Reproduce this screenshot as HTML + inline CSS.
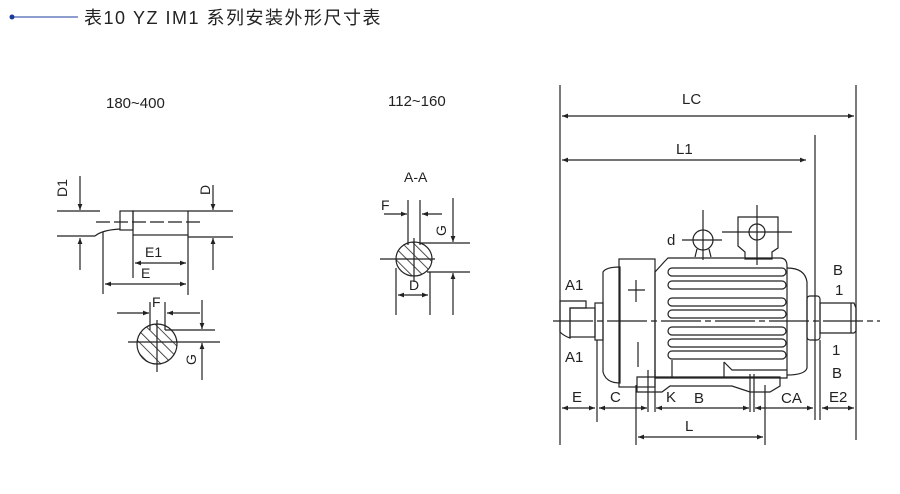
<!DOCTYPE html>
<html><head><meta charset="utf-8"><style>
html,body{margin:0;padding:0;background:#fff;}
svg{display:block;}
text{font-family:"Liberation Sans","Noto Sans CJK SC",sans-serif;fill:#222;}
</style></head><body>
<svg width="900" height="494" viewBox="0 0 900 494" xmlns="http://www.w3.org/2000/svg">
<defs>
<marker id="a" viewBox="0 0 10 10" refX="10" refY="5" markerWidth="5" markerHeight="5" orient="auto-start-reverse"><path d="M0,1 L10,5 L0,9z" fill="#222"/></marker>
<pattern id="h" width="8" height="8" patternUnits="userSpaceOnUse" patternTransform="rotate(-45)"><line x1="0" y1="0" x2="0" y2="8" stroke="#222" stroke-width="1.6"/></pattern>
</defs>
<g stroke="#222" stroke-width="1" fill="none">
<circle cx="12" cy="17" r="2.5" fill="#1a3b9c" stroke="none"/>
<line x1="12" y1="17" x2="78" y2="17" stroke="#1a3b9c"/>
</g>
<text x="84" y="24" font-size="18" letter-spacing="1.5">表10  YZ  IM1 系列安装外形尺寸表</text>

<g stroke="#222" stroke-width="1.2" fill="none">
<!-- left shaft -->
<line x1="57" y1="211" x2="100" y2="211"/>
<line x1="57" y1="236" x2="95" y2="236"/>
<path d="M95,236 Q102,230 120,229"/>
<rect x="120" y="211" width="13" height="19"/>
<rect x="133" y="211" width="55" height="24"/>
<line x1="96" y1="222" x2="200" y2="222" stroke-dasharray="14,4"/>
<line x1="103" y1="232" x2="103" y2="294"/>
<line x1="133" y1="235" x2="133" y2="278"/>
<line x1="188" y1="235" x2="188" y2="295"/>
<line x1="135" y1="263" x2="186" y2="263" marker-start="url(#a)" marker-end="url(#a)"/>
<line x1="105" y1="284" x2="186" y2="284" marker-start="url(#a)" marker-end="url(#a)"/>
<line x1="80" y1="176" x2="80" y2="210" marker-end="url(#a)"/>
<line x1="80" y1="270" x2="80" y2="238" marker-end="url(#a)"/>
<line x1="188" y1="211" x2="233" y2="211"/>
<line x1="188" y1="237" x2="233" y2="237"/>
<line x1="213" y1="185" x2="213" y2="210" marker-end="url(#a)"/>
<line x1="213" y1="270" x2="213" y2="238" marker-end="url(#a)"/>
<circle cx="157" cy="344" r="20" fill="url(#h)"/>
<line x1="150" y1="302" x2="150" y2="330"/>
<line x1="165" y1="302" x2="165" y2="330"/>
<line x1="157" y1="320" x2="157" y2="372"/>
<line x1="117" y1="313" x2="149" y2="313" marker-end="url(#a)"/>
<line x1="200" y1="313" x2="167" y2="313" marker-end="url(#a)"/>
<line x1="165" y1="330" x2="215" y2="330"/>
<line x1="128" y1="342" x2="220" y2="342"/>
<line x1="202" y1="300" x2="202" y2="329" marker-end="url(#a)"/>
<line x1="202" y1="380" x2="202" y2="343" marker-end="url(#a)"/>

<!-- middle -->
<ellipse cx="414" cy="259" rx="18" ry="17" fill="url(#h)"/>
<line x1="408" y1="200" x2="408" y2="245"/>
<line x1="420" y1="200" x2="420" y2="245"/>
<line x1="414" y1="238" x2="414" y2="282"/>
<line x1="380" y1="259" x2="435" y2="259"/>
<line x1="384" y1="214" x2="407" y2="214" marker-end="url(#a)"/>
<line x1="442" y1="214" x2="422" y2="214" marker-end="url(#a)"/>
<line x1="420" y1="243" x2="470" y2="243"/>
<line x1="427" y1="272" x2="470" y2="272"/>
<line x1="453" y1="198" x2="453" y2="242" marker-end="url(#a)"/>
<line x1="453" y1="315" x2="453" y2="273" marker-end="url(#a)"/>
<line x1="396" y1="268" x2="396" y2="315"/>
<line x1="430" y1="272" x2="430" y2="315"/>
<line x1="398" y1="295" x2="428" y2="295" marker-start="url(#a)" marker-end="url(#a)"/>

<!-- motor -->
<line x1="560" y1="85" x2="560" y2="445"/>
<line x1="856" y1="85" x2="856" y2="440"/>
<line x1="815" y1="135" x2="815" y2="420"/>
<line x1="562" y1="116" x2="854" y2="116" marker-start="url(#a)" marker-end="url(#a)"/>
<line x1="562" y1="160" x2="806" y2="160" marker-start="url(#a)" marker-end="url(#a)"/>
<line x1="553" y1="321" x2="880" y2="321" stroke-dasharray="40,4,6,4"/>
<path d="M560,301 H586 V308 H570 V338 Q564,336 560,332 Z"/>
<rect x="570" y="308" width="25" height="29"/>
<rect x="595" y="303" width="8" height="37"/>
<path d="M603,272 Q606,267 620,267 V383 Q606,383 603,372 Z"/>
<rect x="619" y="259" width="36" height="128"/>
<line x1="636" y1="280" x2="636" y2="302"/>
<line x1="628" y1="290" x2="645" y2="290"/>
<line x1="638" y1="342" x2="638" y2="367"/>
<path d="M655,272 L665,261 L668,258 H780 Q787,258 787,266 V378 H655 Z"/>
<rect x="668" y="268" width="118" height="8" rx="4"/>
<rect x="668" y="281" width="118" height="8" rx="4"/>
<rect x="668" y="298" width="118" height="8" rx="4"/>
<rect x="668" y="310" width="118" height="8" rx="4"/>
<rect x="668" y="327" width="118" height="8" rx="4"/>
<rect x="668" y="339" width="118" height="8" rx="4"/>
<rect x="668" y="351" width="118" height="8" rx="4"/>
<line x1="672" y1="360" x2="672" y2="378"/>
<line x1="724" y1="362" x2="724" y2="378"/>
<path d="M724,362 L732,370 H787"/>
<path d="M787,268 Q805,268 807,282 V368 Q805,375 787,375"/>
<rect x="807" y="296" width="13" height="44" rx="3"/>
<path d="M820,303 H854 L856,308 V331 L854,333 H820 Z"/>
<line x1="851" y1="303" x2="851" y2="333"/>
<path d="M637,377 H780 V386 L770,392 H750 L732,386 H670 L662,392 H637 Z"/>
<line x1="648" y1="370" x2="648" y2="412"/>
<line x1="655" y1="370" x2="655" y2="412"/>
<line x1="750" y1="374" x2="750" y2="412"/>
<line x1="754" y1="374" x2="754" y2="412"/>
<path d="M738,217 H778 V248 L772,252 V259 H745 V252 L738,246 Z"/>
<circle cx="757" cy="232" r="8"/>
<line x1="757" y1="205" x2="757" y2="265"/>
<line x1="722" y1="232" x2="792" y2="232"/>
<circle cx="703" cy="240" r="10"/>
<path d="M695,257 L697,249 M711,257 L709,249"/>
<line x1="703" y1="210" x2="703" y2="260"/>
<line x1="682" y1="240" x2="722" y2="240"/>
<line x1="597" y1="340" x2="597" y2="422"/>
<line x1="636" y1="385" x2="636" y2="445"/>
<line x1="765" y1="385" x2="765" y2="445"/>
<line x1="820" y1="340" x2="820" y2="420"/>
<line x1="562" y1="408" x2="595" y2="408" marker-start="url(#a)" marker-end="url(#a)"/>
<line x1="599" y1="408" x2="647" y2="408" marker-start="url(#a)" marker-end="url(#a)"/>
<line x1="656" y1="408" x2="749" y2="408" marker-start="url(#a)" marker-end="url(#a)"/>
<line x1="755" y1="408" x2="813" y2="408" marker-start="url(#a)" marker-end="url(#a)"/>
<line x1="822" y1="408" x2="854" y2="408" marker-start="url(#a)" marker-end="url(#a)"/>
<line x1="638" y1="437" x2="763" y2="437" marker-start="url(#a)" marker-end="url(#a)"/>
</g>

<text x="106" y="108" font-size="15">180~400</text>
<text font-size="14" transform="translate(67,197) rotate(-90)">D1</text>
<text font-size="14" transform="translate(210,195) rotate(-90)">D</text>
<text x="145" y="257" font-size="14">E1</text>
<text x="141" y="278" font-size="14">E</text>
<text x="152" y="307" font-size="14">F</text>
<text font-size="14" transform="translate(196,365) rotate(-90)">G</text>

<text x="388" y="106" font-size="15">112~160</text>
<text x="404" y="182" font-size="14">A-A</text>
<text x="381" y="210" font-size="14">F</text>
<text font-size="14" transform="translate(446,236) rotate(-90)">G</text>
<text x="409" y="290" font-size="14">D</text>

<text x="682" y="104" font-size="15">LC</text>
<text x="676" y="154" font-size="15">L1</text>
<text x="667" y="245" font-size="15">d</text>
<text x="565" y="290" font-size="15">A1</text>
<text x="565" y="362" font-size="15">A1</text>
<text x="833" y="275" font-size="15">B</text>
<text x="835" y="295" font-size="15">1</text>
<text x="832" y="355" font-size="15">1</text>
<text x="832" y="378" font-size="15">B</text>
<text x="572" y="402" font-size="15">E</text>
<text x="610" y="402" font-size="15">C</text>
<text x="666" y="402" font-size="15">K</text>
<text x="694" y="403" font-size="15">B</text>
<text x="781" y="403" font-size="15">CA</text>
<text x="829" y="402" font-size="15">E2</text>
<text x="685" y="431" font-size="15">L</text>
</svg>
</body></html>
